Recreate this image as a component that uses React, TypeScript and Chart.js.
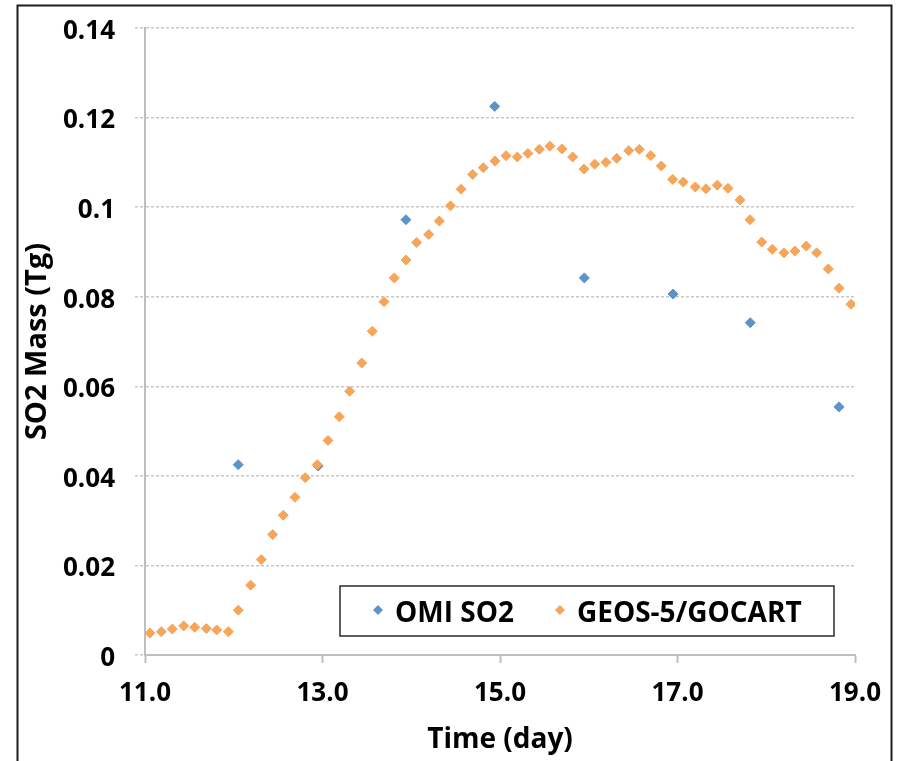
import React, { useEffect, useRef } from "react";
import { Chart, registerables } from "chart.js";

Chart.register(...registerables);

const omiLabel = "OMI SO2";
const geosLabel = "GEOS-5/GOCART";

const omiDays = [12.05, 12.95, 13.94, 14.94, 15.95, 16.95, 17.82, 18.82];
const omiMass = [0.0425, 0.0422, 0.0972, 0.1225, 0.0842, 0.0806, 0.0742, 0.0554];

const geosDays = [
  11.056, 11.184, 11.308, 11.436, 11.56, 11.691, 11.808, 11.939,
  12.051, 12.191, 12.31, 12.439, 12.558, 12.69, 12.806, 12.941,
  13.062, 13.189, 13.306, 13.442, 13.561, 13.693, 13.809, 13.941,
  14.061, 14.197, 14.316, 14.442, 14.561, 14.692, 14.812, 14.944,
  15.068, 15.195, 15.315, 15.443, 15.563, 15.699, 15.819, 15.946,
  16.067, 16.194, 16.315, 16.45, 16.57, 16.698, 16.817, 16.946,
  17.065, 17.201, 17.321, 17.448, 17.569, 17.704, 17.817, 17.949,
  18.068, 18.2, 18.324, 18.451, 18.568, 18.699, 18.82, 18.955,
];
const geosMass = [
  0.0049, 0.0052, 0.0058, 0.0065, 0.0062, 0.0059, 0.0056, 0.0052,
  0.01, 0.0156, 0.0213, 0.0269, 0.0312, 0.0352, 0.0396, 0.0425,
  0.0479, 0.0532, 0.0589, 0.0652, 0.0723, 0.0789, 0.0842, 0.0882,
  0.0921, 0.0939, 0.0969, 0.1003, 0.104, 0.1073, 0.1088, 0.1103,
  0.1115, 0.1112, 0.112, 0.1129, 0.1136, 0.113, 0.1112, 0.1085,
  0.1096, 0.11, 0.1109, 0.1126, 0.1129, 0.1115, 0.1092, 0.1062,
  0.1056, 0.1045, 0.1041, 0.1049, 0.1042, 0.1016, 0.0972, 0.0922,
  0.0906, 0.0898, 0.0902, 0.0913, 0.0898, 0.0862, 0.0819, 0.0783,
];

const xTitle = "Time (day)";
const yTitle = "SO2 Mass (Tg)";

const FONT = "'Open Sans'";
const BLUE = "#5b93cb";
const ORANGE = "#f7a559";
const AXIS = "#bfbfbf";
const GRID = "#c8c8c8";

const framePlugin = {
  id: "frame",
  beforeDraw(chart: any) {
    const ctx = chart.ctx;
    ctx.save();
    ctx.fillStyle = "#ffffff";
    ctx.fillRect(0, 0, chart.width, chart.height);
    ctx.restore();
  },
  afterDraw(chart: any) {
    const ctx = chart.ctx;
    ctx.save();
    ctx.strokeStyle = "#1e1e1e";
    ctx.lineWidth = 2;
    ctx.beginPath();
    ctx.moveTo(17.5, chart.height);
    ctx.lineTo(17.5, 5.5);
    ctx.lineTo(891.5, 5.5);
    ctx.lineTo(891.5, chart.height);
    ctx.stroke();
    ctx.restore();
  },
};

const legendPlugin = {
  id: "boxLegend",
  afterDraw(chart: any) {
    const ctx = chart.ctx;
    ctx.save();
    const bx = 340, by = 586, bw = 494, bh = 50;
    ctx.strokeStyle = "#2a2a2a";
    ctx.lineWidth = 1.5;
    ctx.fillStyle = "#ffffff";
    ctx.fillRect(bx, by, bw, bh);
    ctx.strokeRect(bx, by, bw, bh);
    ctx.font = `bold 28px ${FONT}`;
    ctx.textBaseline = "alphabetic";
    ctx.textAlign = "left";
    let x = 372;
    const baseY = 621.5;
    const markY = 610;
    chart.data.datasets.forEach((ds: any) => {
      const cx = x + 6;
      ctx.fillStyle = ds.backgroundColor;
      ctx.beginPath();
      ctx.moveTo(cx - 5, markY);
      ctx.lineTo(cx, markY - 5);
      ctx.lineTo(cx + 5, markY);
      ctx.lineTo(cx, markY + 5);
      ctx.closePath();
      ctx.fill();
      ctx.fillStyle = "#000000";
      const tx = x + 23;
      ctx.fillText(ds.label, tx, baseY);
      x = tx + ctx.measureText(ds.label).width + 40;
    });
    ctx.restore();
  },
};

export default function App() {
  const ref = useRef<HTMLCanvasElement | null>(null);

  useEffect(() => {
    if (!ref.current) return;
    const chart = new Chart(ref.current, {
      type: "scatter",
      data: {
        datasets: [
          {
            label: omiLabel,
            data: omiDays.map((d, i) => ({ x: d, y: omiMass[i] })),
            backgroundColor: BLUE,
            borderColor: BLUE,
            pointStyle: "rectRot",
            pointRadius: 5,
            borderWidth: 1,
            order: 2,
          },
          {
            label: geosLabel,
            data: geosDays.map((d, i) => ({ x: d, y: geosMass[i] })),
            backgroundColor: ORANGE,
            borderColor: ORANGE,
            pointStyle: "rectRot",
            pointRadius: 5,
            borderWidth: 1,
            order: 1,
          },
        ],
      },
      options: {
        animation: false,
        responsive: false,
        devicePixelRatio: 1,
        layout: { padding: { left: 0, top: 28, right: 48, bottom: 0 } },
        plugins: {
          legend: { display: false },
          tooltip: { enabled: false },
        },
        scales: {
          x: {
            type: "linear",
            min: 11,
            max: 19,
            afterFit: (s: any) => {
              s.height = 106;
            },
            ticks: {
              stepSize: 2,
              padding: 15,
              color: "#000000",
              font: { family: FONT, size: 26, weight: "bold" },
              callback: (v: any) => Number(v).toFixed(1),
            },
            grid: {
              drawOnChartArea: false,
              drawTicks: true,
              tickLength: 8,
              tickColor: AXIS,
              tickWidth: 2,
              color: AXIS,
            },
            border: { display: true, color: AXIS, width: 2 },
            title: {
              display: true,
              text: xTitle,
              color: "#000000",
              font: { family: FONT, size: 28, weight: "bold" },
              padding: { top: 0, bottom: 4 },
            },
          },
          y: {
            type: "linear",
            min: 0,
            max: 0.14,
            afterFit: (s: any) => {
              s.width = 145;
            },
            ticks: {
              stepSize: 0.02,
              padding: 20,
              labelOffset: 3.5,
              color: "#000000",
              font: { family: FONT, size: 26, weight: "bold", lineHeight: 0.5 },
              callback: (v: any) => String(Number(Number(v).toFixed(2))),
            },
            grid: {
              color: GRID,
              lineWidth: 1.5,
              drawTicks: true,
              tickLength: 10,
              tickColor: GRID,
              tickWidth: 1.5,
              tickBorderDash: [3, 2],
            },
            border: { display: true, color: AXIS, width: 2, dash: [3, 2] },
            title: {
              display: true,
              text: yTitle,
              color: "#000000",
              font: { family: FONT, size: 29, weight: "bold" },
              padding: { top: 20, bottom: 0 },
            },
          },
        },
      },
      plugins: [framePlugin, legendPlugin],
    });
    return () => chart.destroy();
  }, []);

  return (
    <div style={{ position: "fixed", left: 0, top: 0, width: 903, height: 761 }}>
      <canvas ref={ref} width={903} height={761} style={{ width: 903, height: 761, display: "block" }} />
    </div>
  );
}
